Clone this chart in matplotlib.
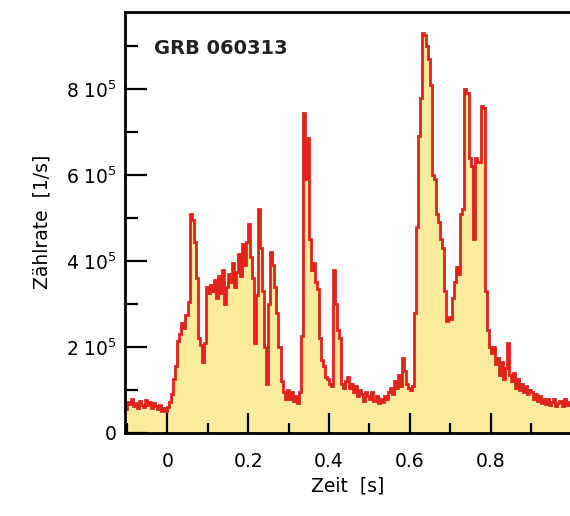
import numpy as np
import matplotlib
matplotlib.use("Agg")
import matplotlib.pyplot as plt
from matplotlib.ticker import MultipleLocator, FuncFormatter

plt.rcParams["font.family"] = ["DejaVu Sans"]
plt.rcParams["mathtext.default"] = "regular"

# light curve of GRB 060313, 5 ms bins starting at t_start (s)
BIN_WIDTH = 0.005
t_start = -0.105
rate = [  # counts per second, units of 1e5
    # -0.105 .. -0.005
    0.55, 0.72, 0.68, 0.78, 0.62, 0.70, 0.58, 0.75, 0.66, 0.60, 0.77,
    0.64, 0.72, 0.58, 0.70, 0.62, 0.55, 0.66, 0.52, 0.58, 0.50,
    # 0.000 .. 0.040
    0.60, 0.72, 0.90, 1.25, 1.55, 2.15, 2.30, 2.55, 2.45,
    # 0.045 .. 0.095
    2.75, 3.05, 5.10, 4.95, 4.45, 3.60, 2.20, 2.05, 1.65, 2.10, 3.40,
    # 0.100 .. 0.195
    3.25, 3.45, 3.30, 3.55, 3.15, 3.65, 3.25, 3.80, 3.00, 3.40,
    3.70, 3.50, 3.95, 3.40, 3.75, 4.15, 3.65, 4.40, 3.90, 4.45,
    # 0.200 .. 0.295
    4.85, 4.10, 3.60, 2.10, 3.20, 5.20, 4.30, 3.30, 2.00, 1.15,
    3.00, 4.20, 3.90, 3.40, 2.80, 2.00, 1.20, 0.95, 0.80, 1.00,
    # 0.300 .. 0.395
    0.80, 0.95, 0.75, 0.85, 0.70, 0.95, 2.25, 7.45, 5.90, 6.85,
    4.50, 3.80, 3.95, 3.50, 3.35, 2.20, 1.70, 1.55, 1.30, 1.25,
    # 0.400 .. 0.495
    1.15, 1.10, 3.80, 3.00, 2.40, 2.20, 1.15, 1.05, 1.20, 1.30,
    1.05, 1.15, 0.95, 1.10, 0.85, 1.00, 0.90, 0.75, 0.95, 0.85,
    # 0.500 .. 0.595
    0.80, 0.95, 0.75, 0.85, 0.70, 0.80, 0.72, 0.85, 0.78, 0.95,
    1.05, 0.90, 1.20, 1.05, 1.35, 1.10, 1.75, 1.45, 1.15, 1.05,
    # 0.600 .. 0.695
    1.00, 1.10, 2.80, 4.80, 6.90, 7.80, 9.30, 9.25, 9.00, 8.70,
    8.10, 6.00, 5.90, 5.10, 4.90, 4.50, 4.30, 3.30, 2.60, 2.70,
    # 0.700 .. 0.795
    2.65, 3.15, 3.50, 3.85, 3.70, 5.10, 5.20, 8.00, 7.90, 6.40,
    6.20, 4.50, 6.40, 6.30, 6.30, 7.60, 7.55, 3.30, 2.40, 2.00,
    # 0.800 .. 0.895
    1.85, 2.00, 1.60, 1.75, 1.35, 1.65, 1.25, 1.50, 2.10, 1.35,
    1.20, 1.40, 1.05, 1.25, 1.00, 1.15, 0.95, 1.10, 0.90, 1.00,
    # 0.900 .. 0.995
    0.95, 0.80, 0.90, 0.75, 0.85, 0.70, 0.80, 0.68, 0.78, 0.65,
    0.72, 0.80, 0.62, 0.70, 0.75, 0.62, 0.78, 0.66, 0.72, 0.64,
]
title = "GRB 060313"

rate = np.array(rate) * 1e5
edges = t_start + BIN_WIDTH * np.arange(len(rate) + 1)

fig = plt.figure(figsize=(5.70, 5.16), dpi=100)
ax = fig.add_axes([0.2193, 0.1609, 0.7807, 0.8168])

ax.stairs(rate, edges, fill=True, color="#fbeb9c", baseline=0)
ax.stairs(rate, edges, color="#e0231b", lw=2.0, baseline=None)

ax.set_xlim(-0.1046, 0.996)
ax.set_ylim(0, 9.80e5)

ax.xaxis.set_major_locator(MultipleLocator(0.2))
ax.xaxis.set_minor_locator(MultipleLocator(0.1))
ax.yaxis.set_major_locator(MultipleLocator(2e5))
ax.yaxis.set_minor_locator(MultipleLocator(1e5))


def fmt_x(v, pos):
    return "0" if abs(v) < 1e-9 else f"{v:.1f}"


def fmt_y(v, pos):
    n = int(round(v / 1e5))
    return "0" if n == 0 else f"{n} 10$^5$"


ax.xaxis.set_major_formatter(FuncFormatter(fmt_x))
ax.yaxis.set_major_formatter(FuncFormatter(fmt_y))

ax.tick_params(which="both", direction="in", width=1.6, labelsize=13.5,
               top=False, right=False)
ax.tick_params(axis="x", which="major", length=14.5, pad=14)
ax.tick_params(axis="x", which="minor", length=7.5)
ax.tick_params(axis="y", which="major", length=16, pad=6)
ax.tick_params(axis="y", which="minor", length=9)

for side in ("left", "bottom", "top"):
    ax.spines[side].set_linewidth(2.0)
ax.spines["right"].set_visible(False)

ax.set_xlabel("Zeit  [s]", fontsize=13.5, labelpad=4)
ax.set_ylabel("Zählrate  [1/s]", fontsize=13.5, labelpad=10)

ax.text(0.065, 0.9, title, transform=ax.transAxes, fontsize=14,
        fontweight="bold", color="#222222")

fig.savefig("out.png", dpi=100)
